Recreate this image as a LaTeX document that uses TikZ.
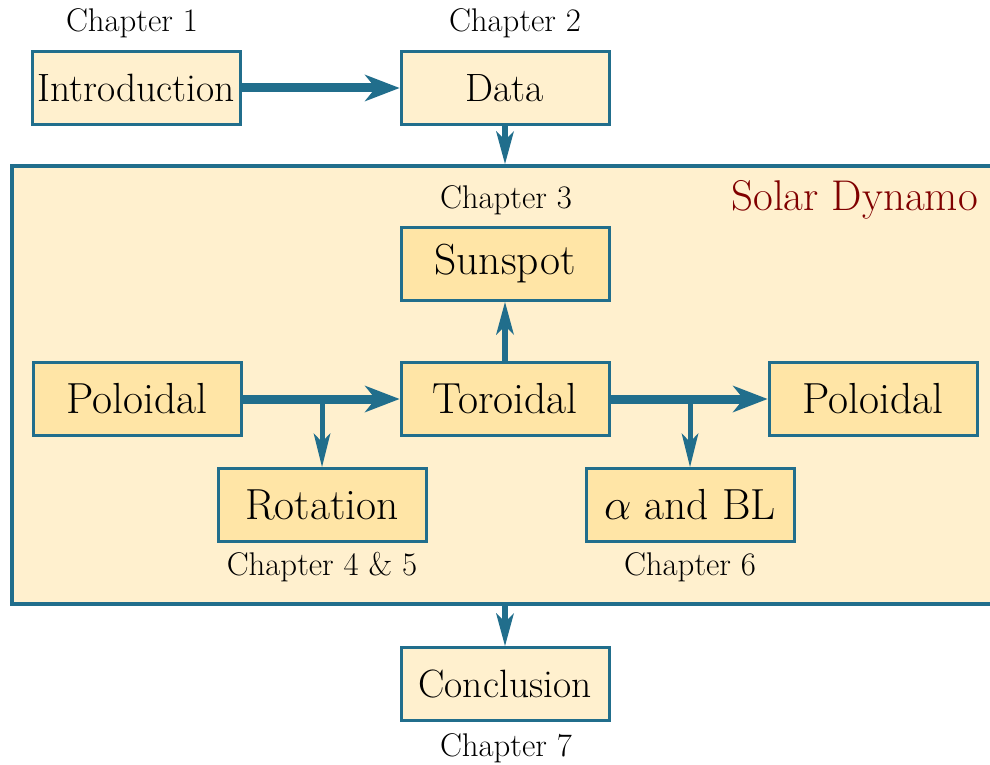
\RequirePackage{fix-cm}
\documentclass[tikz,border=0pt]{standalone}
\usetikzlibrary{arrows.meta}
\definecolor{bd}{RGB}{33,110,140}
\definecolor{lt}{RGB}{255,240,206}
\definecolor{dk}{RGB}{255,229,166}
\definecolor{sdred}{RGB}{128,0,0}
\begin{document}
\begin{tikzpicture}[x=1pt,y=-1pt,
  box/.style={draw=bd,line width=3pt,fill=lt,minimum width=208pt,minimum height=73pt,inner sep=0pt,font=\fontsize{39.5}{44}\selectfont},
  inbox/.style={box,fill=dk,font=\fontsize{43.5}{48}\selectfont},
  chap/.style={font=\fontsize{32.8}{36}\selectfont,inner sep=0pt},
  bigarr/.style={draw=bd,line width=9pt,-{Stealth[length=35pt,width=27pt,inset=11pt,line width=0pt]}},
  midarr/.style={draw=bd,line width=6pt,-{Stealth[length=33pt,width=18pt,inset=9pt,line width=0pt]}},
  smallarr/.style={draw=bd,line width=5pt,-{Stealth[length=34pt,width=17pt,inset=9pt,line width=0pt]}}]
\fill[white] (0,0) rectangle (990,765);
\useasboundingbox (0,0) rectangle (990,765);
% big box
\node[draw=bd,line width=4pt,fill=lt,minimum width=990pt,minimum height=438pt,inner sep=0pt] (dyn) at (507,385) {};
\node[anchor=east,text=sdred,inner sep=0pt,font=\fontsize{43}{48}\selectfont] (sdlbl) at (978,200) {Solar Dynamo};
% boxes
\node[box] (intro) at (136,88) {Introduction};
\node[box] (data) at (505,88) {Data};
\node[inbox] (sun) at (505,264) {Sunspot};
\node[inbox] (polL) at (137,399) {Poloidal};
\node[inbox] (tor) at (505,399) {Toroidal};
\node[inbox] (polR) at (873,399) {Poloidal};
\node[inbox] (rot) at (322,505) {Rotation};
\node[inbox] (abl) at (690,505) {$\alpha$ and BL};
\node[box] (conc) at (505,684) {Conclusion};
% chapter labels
\node[chap] (c1) at (132,23) {Chapter 1};
\node[chap] (c2) at (515,23) {Chapter 2};
\node[chap] (c3) at (506,200) {Chapter 3};
\node[chap] (c45) at (322,567) {Chapter 4 \& 5};
\node[chap] (c6) at (690,567) {Chapter 6};
\node[chap] (c7) at (506,748) {Chapter 7};
% arrows
\draw[bigarr] (intro.east) -- (data.west);
\draw[midarr] (data.south) -- (data.south |- dyn.north);
\draw[midarr] (tor.north) -- (sun.south);
\draw[bigarr] (polL.east) -- (tor.west);
\draw[bigarr] (tor.east) -- (polR.west);
\draw[smallarr] (rot.north |- polL.east) -- (rot.north);
\draw[smallarr] (abl.north |- tor.east) -- (abl.north);
\draw[midarr] (conc.north |- dyn.south) -- (conc.north);
\end{tikzpicture}
\end{document}
